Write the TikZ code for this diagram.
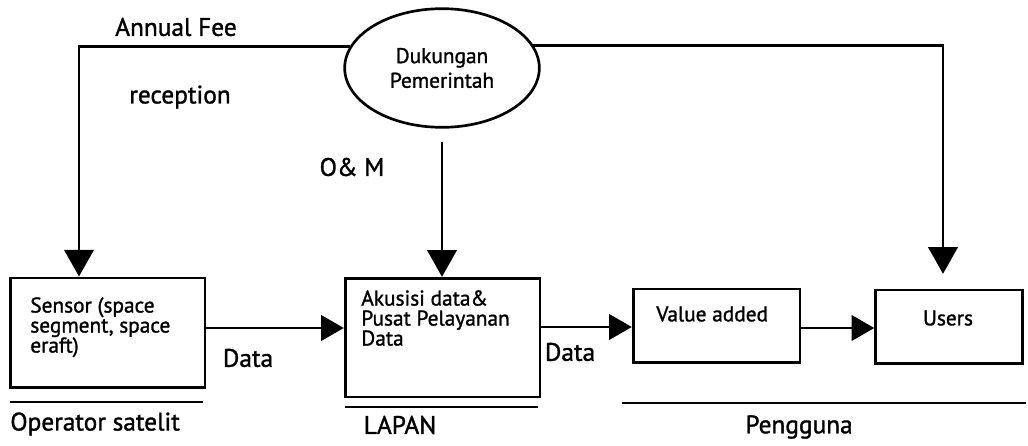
\documentclass[tikz,border=0pt]{standalone}
\usepackage{fontspec}
\setmainfont{PT Sans}[RawFeature={embolden=1.3}]
\usetikzlibrary{arrows.meta,shapes.geometric}
\begin{document}
\begin{tikzpicture}[x=0.75pt,y=-0.75pt,
  line width=2pt,
  arr/.style={-{Triangle[length=20pt,width=22pt]}},
  harr/.style={-{Triangle[length=17pt,width=19pt]}},
  boxnode/.style={draw,rectangle,inner sep=0pt},
  lbl/.style={font=\fontsize{19}{22}\selectfont,inner sep=0pt},
  boxtxt/.style={font=\fontsize{16}{15}\selectfont,inner sep=0pt,align=left},
  rule/.style={line width=1.6pt}]
\useasboundingbox (0,0) rectangle (1028,446);

% government support
\node[draw,ellipse,minimum width=146pt,minimum height=89pt,inner sep=0pt,
      font=\fontsize{16}{18.5}\selectfont,align=center] (dk) at (442,68)
      {Dukungan\\Pemerintah};

% boxes
\node[boxnode,minimum width=146pt,minimum height=82pt] (sensor) at (107.5,332.5) {};
\node[boxnode,minimum width=146pt,minimum height=89pt] (lapan) at (442.5,337.5) {};
\node[boxnode,minimum width=125pt,minimum height=55pt] (value) at (716.5,325.5) {};
\node[boxnode,minimum width=110pt,minimum height=55pt] (users) at (949,326.5) {};

% box texts
\node[boxtxt,anchor=north west] (tsensor) at (29,296) {Sensor (space\\segment, space\\eraft)};
\node[boxtxt,anchor=north west] (tlapan) at (360,289) {Akusisi data\&\\Pusat Pelayanan\\Data};
\node[boxtxt,anchor=west] (tvalue) at (655,314) {Value added};
\node[boxtxt] (tusers) at (948,318) {Users};

% helper points for the connector routes
\coordinate (fl) at (79,0);
\coordinate (fr) at (943,0);
\coordinate (om) at (442,142);
\coordinate (d1) at (205,328);
\coordinate (d2) at (540,327);
\coordinate (d3) at (800,328);

% connectors
\draw[arr] (dk.167) -| (sensor.north -| fl);
\draw[arr,shorten >=11pt] (dk.14) -| (users.north -| fr);
\draw[arr] (om) -- (om |- lapan.north);
\draw[harr] (d1) -- (d1 -| lapan.west);
\draw[harr] (d2) -- (d2 -| value.west);
\draw[harr] (d3) -- (d3 -| users.west);

% labels
\node[lbl] (fee) at (176,27) {Annual Fee};
\node[lbl] (rec) at (180,97) {reception};
\node[lbl] (onm) at (352,167) {O\& M};
\node[lbl] (data1) at (248,358) {Data};
\node[lbl] (data2) at (570,352) {Data};

% group rules and names
\coordinate (r1a) at (10,402);   \coordinate (r1b) at (203,402);
\coordinate (r2a) at (345,407);  \coordinate (r2b) at (538,407);
\coordinate (r3a) at (622,403);  \coordinate (r3b) at (1026,403);
\draw[rule] (r1a) -- (r1b);
\draw[rule] (r2a) -- (r2b);
\draw[rule] (r3a) -- (r3b);
\node[lbl,anchor=west] (op) at (9,424) {Operator satelit};
\node[lbl] (lp) at (400,425) {LAPAN};
\node[lbl] (pg) at (799,427) {Pengguna};
\end{tikzpicture}
\end{document}
